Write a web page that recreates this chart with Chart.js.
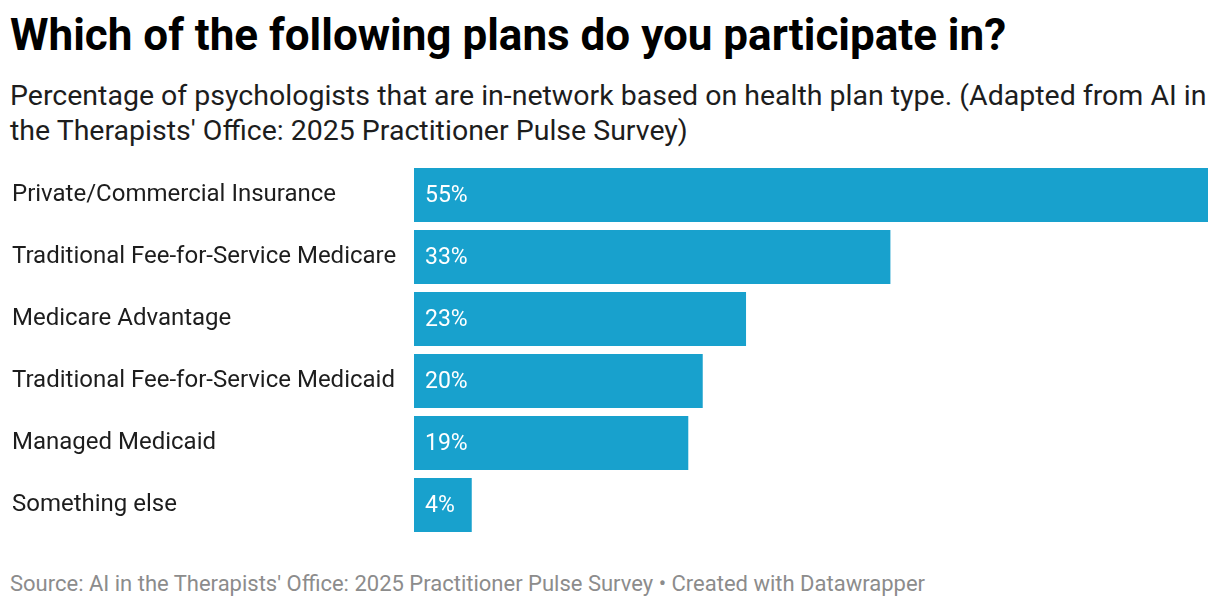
<!DOCTYPE html>
<html>
<head>
<meta charset="utf-8">
<script src="https://cdn.jsdelivr.net/npm/chart.js@4"></script>
<style>
  html, body { margin: 0; padding: 0; background: #fff; }
  body { width: 1220px; height: 608px; position: relative; overflow: hidden; font-family: Roboto, sans-serif; }
  #title { position: absolute; left: 10px; top: 13px; font-size: 44px; line-height: 44px; font-weight: 700; color: #000; white-space: nowrap; }
  #subtitle { position: absolute; left: 10px; top: 78px; font-size: 28.5px; line-height: 35px; color: #1d1d1d; white-space: nowrap; }
  #source { position: absolute; left: 10px; top: 573px; font-size: 22px; line-height: 22px; color: #8c8c8c; white-space: nowrap; }
  #wrap { position: absolute; left: 0; top: 164px; width: 1208px; height: 372px; }
</style>
</head>
<body>
<div id="title">Which of the following plans do you participate in?</div>
<div id="subtitle">Percentage of psychologists that are in-network based on health plan type. (Adapted from AI in<br>the Therapists' Office: 2025 Practitioner Pulse Survey)</div>
<div id="wrap"><canvas id="c"></canvas></div>
<div id="source">Source: AI in the Therapists' Office: 2025 Practitioner Pulse Survey • Created with Datawrapper</div>
<script>
const categories = [
  "Private/Commercial Insurance",
  "Traditional Fee-for-Service Medicare",
  "Medicare Advantage",
  "Traditional Fee-for-Service Medicaid",
  "Managed Medicaid",
  "Something else"
];
const values = [55, 33, 23, 20, 19, 4];

const valueLabels = {
  id: 'valueLabels',
  afterDatasetsDraw(chart) {
    const ctx = chart.ctx;
    const meta = chart.getDatasetMeta(0);
    ctx.save();
    ctx.font = '23px Roboto, sans-serif';
    ctx.fillStyle = '#ffffff';
    ctx.textAlign = 'left';
    ctx.textBaseline = 'middle';
    meta.data.forEach((bar, i) => {
      ctx.fillText(values[i] + '%', bar.base + 11, bar.y + 1);
    });
    ctx.restore();
  }
};

new Chart(document.getElementById('c'), {
  type: 'bar',
  data: {
    labels: categories,
    datasets: [{
      data: values,
      backgroundColor: '#18a1cd',
      borderWidth: 0,
      barPercentage: 0.87,
      categoryPercentage: 1
    }]
  },
  options: {
    indexAxis: 'y',
    responsive: true,
    maintainAspectRatio: false,
    animation: false,
    layout: { padding: { left: 12, right: 0, top: 0, bottom: 0 } },
    plugins: { legend: { display: false }, tooltip: { enabled: false } },
    scales: {
      x: { display: false, min: 0, max: 55 },
      y: {
        grid: { display: false },
        border: { display: false },
        ticks: {
          crossAlign: 'far',
          color: '#1d1d1d',
          font: { family: 'Roboto', size: 24 },
          padding: 0
        },
        afterFit(scale) {
          scale.width = 402;
          scale.paddingTop = 0;
          scale.paddingBottom = 0;
        }
      }
    }
  },
  plugins: [valueLabels]
});
</script>
</body>
</html>
